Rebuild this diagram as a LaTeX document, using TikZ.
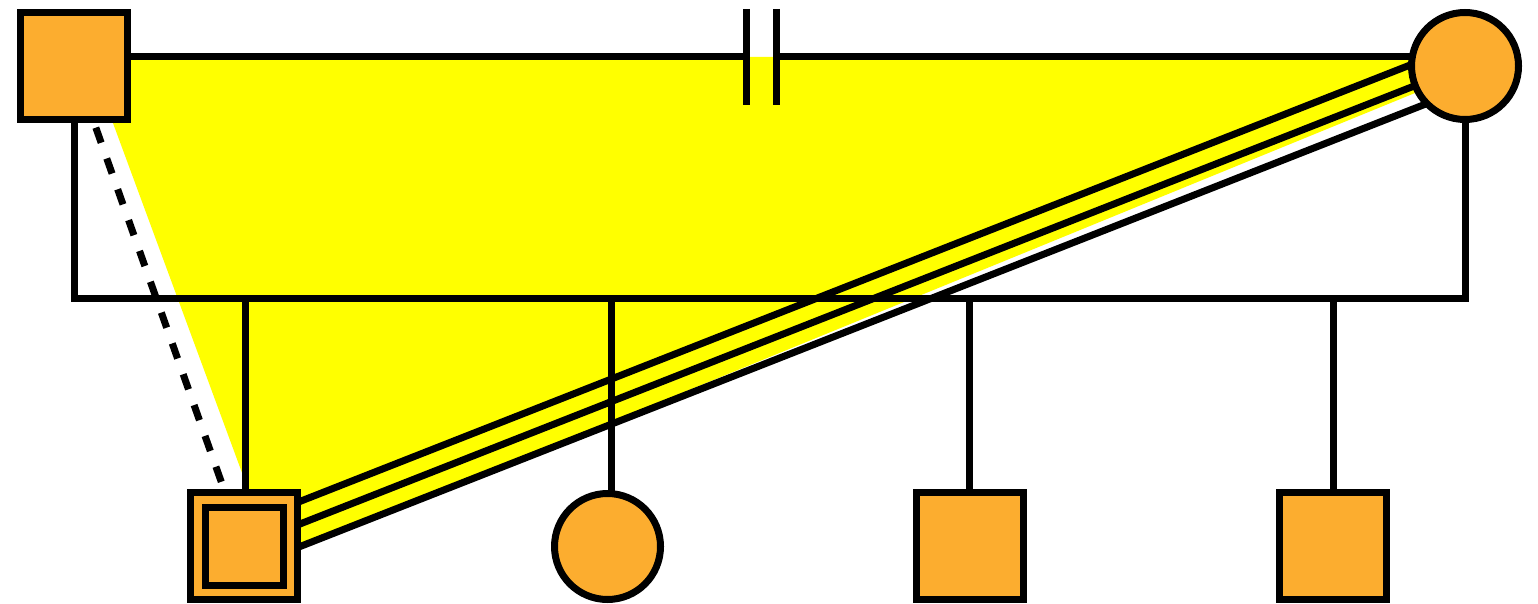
\documentclass[tikz,border=0pt]{standalone}
\usetikzlibrary{calc,backgrounds}
\definecolor{ped}{RGB}{252,173,47}
\definecolor{tri}{RGB}{255,255,0}
\begin{document}
\begin{tikzpicture}[x=1pt,y=-1pt,
  male/.style={rectangle,draw=black,fill=ped,line width=7pt,minimum size=107pt,inner sep=0pt},
  female/.style={circle,draw=black,fill=ped,line width=7pt,minimum size=107pt,inner sep=0pt},
  rel/.style={draw=black,line width=7pt},
  dashrel/.style={draw=black,line width=7pt,dash pattern=on 16pt off 16.7pt},
  hl/.style={fill=tri}]
\useasboundingbox (0,0) rectangle (1538,604);
% persons
\node[male] (father) at (74,66) {};
\node[female] (mother) at (1465,66) {};
\node[male] (c1) at (244,546) {};
\node[male,minimum size=78.3pt,line width=7.3pt] (c1in) at (244.5,546.3) {};
\node[female,minimum size=106pt] (c2) at (607.5,546.5) {};
\node[male] (c3) at (970,546) {};
\node[male] (c4) at (1333,546) {};
% helper coordinates
\coordinate (sib) at (0,298);
\coordinate (mL) at (746.5,57);
\coordinate (mR) at (776,57);
\coordinate (d1t) at (746.5,9);
\coordinate (d1b) at (746.5,105);
\coordinate (d2t) at (776,9);
\coordinate (d2b) at (776,105);
\coordinate (c1d) at (245,546);
\coordinate (c2d) at (611,546);
\coordinate (c3d) at (969,546);
\coordinate (c4d) at (1333,546);
\begin{scope}[on background layer]
  % highlighted triangle
  \fill[hl] (88.6,57) -- (1440,57) -- (1440,82.8) -- (274.1,559.7) -- cycle;
  % marriage line with divorce marks
  \draw[rel] ([yshift=9pt]father.center) -- (mL);
  \draw[rel] (mR) -- ([yshift=9pt]mother.center);
  \draw[rel] (d1t) -- (d1b);
  \draw[rel] (d2t) -- (d2b);
  % sibship line
  \draw[rel] (father.center) -- (father |- sib) -- (mother |- sib) -- (mother.center);
  \draw[rel] (c1d |- sib) -- (c1d);
  \draw[rel] (c2d |- sib) -- (c2d);
  \draw[rel] (c3d |- sib) -- (c3d);
  \draw[rel] (c4d |- sib) -- (c4d);
  % dashed relation father - child
  \draw[dashrel] (father.center) -- (c1.center);
  % triple relation mother - child
  \draw[rel] ($(c1.center)!21pt!90:(mother.center)$) -- ($(mother.center)!21pt!-90:(c1.center)$);
  \draw[rel] (c1.center) -- (mother.center);
  \draw[rel] ($(c1.center)!21pt!-90:(mother.center)$) -- ($(mother.center)!21pt!90:(c1.center)$);
\end{scope}
\end{tikzpicture}
\end{document}
